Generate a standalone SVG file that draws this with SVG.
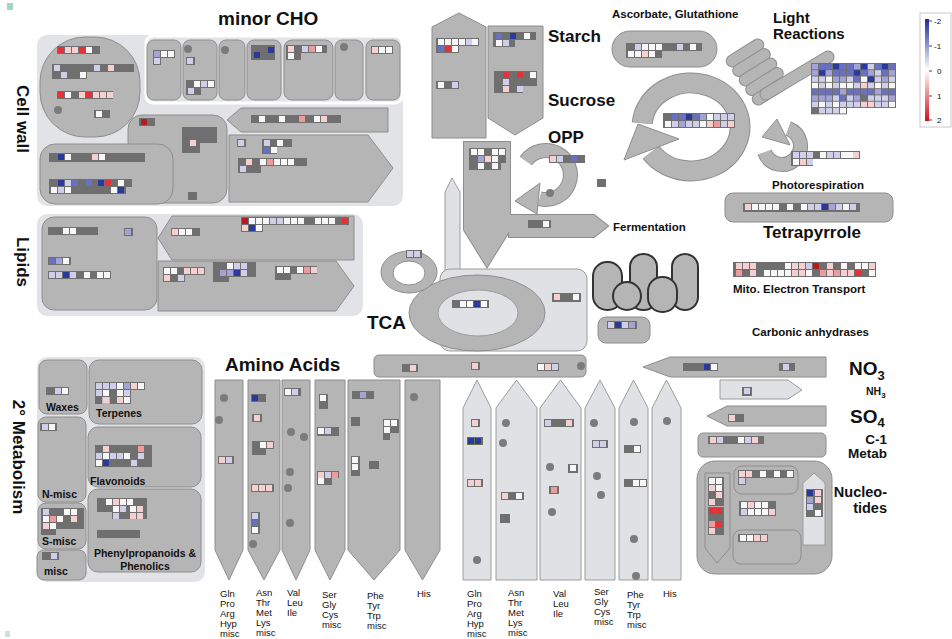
<svg xmlns="http://www.w3.org/2000/svg" width="952" height="639" viewBox="0 0 952 639">
<style>
.pn{fill:#e2e3e6}
.nd{fill:#b5b5b5;stroke:#8e8e8e;stroke-width:1}
.lt{fill:#e0e1e4;stroke:#9c9c9c;stroke-width:1}
.bar{fill:#6f6f6f}
.dot{fill:#7b7b7b}
.o{fill:none;stroke:#8e8e8e;stroke-width:2}
.f{fill:#b5b5b5}
.dk{fill:#b5b5b5;stroke:#333;stroke-width:2}
.ro{fill:none;stroke:#8e8e8e}
.rf{fill:none;stroke:#b5b5b5}
text{font-family:"Liberation Sans",Arial,sans-serif;fill:#111}
.t17{font-size:17px;font-weight:bold}
.t19{font-size:19px;font-weight:bold}
.t15{font-size:15px;font-weight:bold}
.t14{font-size:14.5px;font-weight:bold}
.t13{font-size:13.5px;font-weight:bold}
.t12{font-size:11.5px;font-weight:bold}
.t10{font-size:10.5px;font-weight:bold}
.aa{font-size:9.5px;fill:#333}
.lg{font-size:8px;fill:#333}
</style>
<defs>
<rect id="W" width="6" height="6" fill="#f7f7f7"/>
<rect id="B1" width="6" height="6" fill="#cfcfea"/>
<rect id="B2" width="6" height="6" fill="#a3a3d6"/>
<rect id="B3" width="6" height="6" fill="#6a70c0"/>
<rect id="B4" width="6" height="6" fill="#2a3a9c"/>
<rect id="R1" width="6" height="6" fill="#f6d0d0"/>
<rect id="R2" width="6" height="6" fill="#ef9a9c"/>
<rect id="R3" width="6" height="6" fill="#e63236"/>
<rect id="R4" width="6" height="6" fill="#b21c22"/>
<rect id="pill" x="-21" y="-6" width="42" height="12" rx="6"/>
<linearGradient id="lgd" x1="0" y1="0" x2="0" y2="1">
<stop offset="0" stop-color="#1a2a9a"/><stop offset="0.5" stop-color="#ffffff"/><stop offset="1" stop-color="#d0101a"/>
</linearGradient>
</defs>
<rect width="952" height="639" fill="#fff"/>
<rect x="7" y="3" width="6" height="7" fill="#a5d6bd"/>
<rect x="5" y="631" width="5" height="6" fill="#c8e4d6"/>

<!-- labels -->
<g id="labels">
<text class="t19" x="218" y="25">minor CHO</text>
<text class="t17" transform="translate(17,119) rotate(90)" text-anchor="middle">Cell wall</text>
<text class="t17" transform="translate(17,262) rotate(90)" text-anchor="middle">Lipids</text>
<text class="t17" transform="translate(13,457) rotate(90)" text-anchor="middle">2° Metabolism</text>
<text class="t17" x="548" y="42">Starch</text>
<text class="t17" x="548" y="106">Sucrose</text>
<text class="t17" x="548" y="143">OPP</text>
<text class="t12" x="612" y="18">Ascorbate, Glutathione</text>
<text class="t15" x="773" y="23">Light</text>
<text class="t15" x="773" y="39">Reactions</text>
<text class="t12" x="613" y="231">Fermentation</text>
<text class="t12" x="772" y="189">Photorespiration</text>
<text class="t17" x="763" y="238">Tetrapyrrole</text>
<text class="t12" x="733" y="293">Mito. Electron Transport</text>
<text class="t12" x="752" y="336">Carbonic anhydrases</text>
<text class="t19" x="367" y="329">TCA</text>
<text class="t19" x="225" y="371">Amino Acids</text>
<text class="t19" x="849" y="375">NO<tspan font-size="13" dy="5">3</tspan></text>
<text class="t10" x="866" y="395">NH<tspan font-size="8" dy="3">3</tspan></text>
<text class="t19" x="850" y="423">SO<tspan font-size="13" dy="4">4</tspan></text>
<text class="t13" x="887" y="444" text-anchor="end">C-1</text>
<text class="t13" x="887" y="458" text-anchor="end">Metab</text>
<text class="t14" x="887" y="497" text-anchor="end">Nucleo-</text>
<text class="t14" x="887" y="513" text-anchor="end">tides</text>
</g>

<!-- Cell wall / minor CHO -->
<g id="cellwall">
<rect class="pn" x="37" y="35" width="366" height="171" rx="10"/>
<rect class="pn" x="146" y="36" width="256" height="67" rx="7" stroke="#fff" stroke-width="3"/>
<rect class="nd" x="40" y="37" width="100" height="100" rx="45"/>
<rect class="bar" x="57" y="46" width="43" height="8"/>
<use href="#R3" x="58" y="47"/><use href="#R1" x="65" y="47"/><use href="#R1" x="72" y="47"/><use href="#R3" x="79" y="47"/><use href="#W" x="86" y="47"/>
<rect class="bar" x="52" y="64" width="82" height="8"/><rect class="bar" x="52" y="71" width="35" height="8"/>
<use href="#B1" x="54" y="65"/><use href="#B1" x="94" y="65"/><use href="#R1" x="108" y="65"/>
<use href="#B1" x="61" y="72"/><use href="#W" x="80" y="72"/>
<rect class="bar" x="57" y="91" width="56" height="8"/>
<use href="#R3" x="58" y="92"/><use href="#W" x="65" y="92"/><use href="#R1" x="79" y="92"/><use href="#R3" x="86" y="92"/><use href="#R1" x="93" y="92"/><use href="#R1" x="100" y="92"/><use href="#R1" x="107" y="92"/>
<circle class="dot" cx="58" cy="110" r="4"/>
<rect class="bar" x="94" y="110" width="16" height="8"/><use href="#W" x="96" y="111"/>

<rect class="nd" x="128" y="115" width="99" height="88" rx="14"/>
<rect class="bar" x="139" y="118" width="16" height="8"/><use href="#R4" x="141" y="119"/>
<path class="bar" d="M182,127H217V143H200V153H182Z"/><use href="#R1" x="190" y="140"/>
<rect class="bar" x="188" y="192" width="9" height="8"/>

<rect class="nd" x="40" y="144" width="133" height="60" rx="15"/>
<rect class="bar" x="49" y="153" width="96" height="9"/>
<use href="#B4" x="58" y="154"/><use href="#W" x="65" y="154"/><use href="#R1" x="92" y="154"/><use href="#W" x="99" y="154"/>
<rect class="bar" x="49" y="179" width="83" height="8"/><rect class="bar" x="49" y="186" width="77" height="8"/>
<use href="#B4" x="58" y="180"/><use href="#B1" x="65" y="180"/><use href="#B3" x="72" y="180"/><use href="#B3" x="86" y="180"/><use href="#B4" x="98" y="180"/><use href="#R3" x="105" y="180"/><use href="#W" x="118" y="180"/>
<use href="#W" x="51" y="187"/><use href="#B1" x="58" y="187"/><use href="#W" x="65" y="187"/><use href="#W" x="111" y="187"/><use href="#B4" x="118" y="187"/>

<polygon class="nd" points="227,120 241,108 388,108 388,132 241,132"/>
<rect class="bar" x="251" y="115" width="90" height="8"/>
<use href="#W" x="259" y="116"/><use href="#W" x="279" y="116"/><use href="#R2" x="299" y="116"/><use href="#W" x="314" y="116"/><use href="#R1" x="321" y="116"/>

<polygon class="nd" points="229,135 368,135 393,168 368,202 229,202"/>
<rect class="bar" x="237" y="139" width="9" height="8"/><use href="#B1" x="238" y="140"/>
<rect class="bar" x="262" y="139" width="30" height="8"/><rect class="bar" x="262" y="146" width="15" height="8"/>
<use href="#B1" x="264" y="140"/><use href="#W" x="277" y="140"/><use href="#B3" x="264" y="147"/><use href="#W" x="271" y="147"/>
<rect class="bar" x="238" y="158" width="69" height="8"/><rect class="bar" x="238" y="165" width="23" height="8"/>
<use href="#R1" x="246" y="159"/><use href="#W" x="260" y="159"/><use href="#R2" x="267" y="159"/><use href="#W" x="274" y="159"/><use href="#W" x="281" y="159"/><use href="#W" x="288" y="159"/>
<use href="#B1" x="240" y="166"/>
</g>

<g id="minorCHO">
<rect class="nd" x="147" y="40" width="34" height="60" rx="7"/>
<rect class="bar" x="153" y="50" width="22" height="8"/><rect class="bar" x="153" y="57" width="8" height="8"/>
<use href="#B2" x="154" y="51"/><use href="#W" x="161" y="51"/><use href="#W" x="168" y="51"/><use href="#B1" x="154" y="58"/>
<rect class="nd" x="183" y="40" width="34" height="60" rx="7"/>
<circle class="dot" cx="188" cy="49" r="4"/>
<rect class="bar" x="186" y="57" width="9" height="8"/><use href="#B1" x="187" y="58"/>
<rect class="bar" x="186" y="80" width="29" height="8"/><rect class="bar" x="186" y="87" width="15" height="8"/>
<use href="#W" x="194" y="81"/><use href="#B1" x="201" y="81"/><use href="#W" x="208" y="81"/><use href="#B1" x="188" y="88"/>
<rect class="nd" x="219" y="40" width="26" height="60" rx="7"/>
<circle class="dot" cx="225" cy="50" r="4"/>
<rect class="nd" x="247" y="40" width="34" height="60" rx="7"/>
<rect class="bar" x="251" y="45" width="24" height="15"/><use href="#B4" x="268" y="47"/><use href="#B4" x="254" y="52"/>
<rect class="nd" x="284" y="40" width="49" height="60" rx="8"/>
<rect class="bar" x="286" y="45" width="41" height="8"/><rect class="bar" x="286" y="52" width="15" height="8"/>
<use href="#R1" x="288" y="46"/><use href="#B1" x="302" y="46"/><use href="#R2" x="309" y="46"/><use href="#W" x="316" y="46"/><use href="#W" x="288" y="53"/>
<rect class="nd" x="335" y="40" width="28" height="60" rx="7"/>
<circle class="dot" cx="344" cy="47" r="4"/>
<rect class="nd" x="366" y="40" width="34" height="60" rx="7"/>
<rect class="bar" x="371" y="46" width="22" height="8"/>
<use href="#R1" x="372" y="47"/><use href="#W" x="379" y="47"/><use href="#W" x="386" y="47"/>
</g>

<!-- Lipids -->
<g id="lipids">
<rect class="pn" x="37" y="214" width="326" height="102" rx="10"/>
<rect class="nd" x="42" y="217" width="115" height="93" rx="12"/>
<rect class="bar" x="48" y="227" width="50" height="8"/><use href="#W" x="63" y="228"/><use href="#W" x="70" y="228"/>
<rect class="bar" x="124" y="228" width="9" height="8"/><use href="#B2" x="125" y="229"/>
<rect class="bar" x="48" y="257" width="23" height="8"/><use href="#B3" x="49" y="258"/><use href="#B2" x="56" y="258"/><use href="#W" x="63" y="258"/>
<rect class="bar" x="48" y="271" width="63" height="8"/>
<use href="#B1" x="49" y="272"/><use href="#B1" x="56" y="272"/><use href="#B4" x="63" y="272"/><use href="#B1" x="70" y="272"/><use href="#W" x="84" y="272"/><use href="#W" x="97" y="272"/><use href="#W" x="104" y="272"/>
<polygon class="nd" points="158,238 172,216 354,216 354,260 172,260"/>
<rect class="bar" x="171" y="228" width="29" height="8"/><use href="#R1" x="172" y="229"/><use href="#W" x="179" y="229"/><use href="#W" x="186" y="229"/>
<rect class="bar" x="241" y="217" width="108" height="8"/><rect class="bar" x="241" y="224" width="22" height="8"/>
<use href="#R4" x="242" y="218"/><use href="#W" x="249" y="218"/><use href="#W" x="256" y="218"/><use href="#W" x="263" y="218"/><use href="#B1" x="270" y="218"/><use href="#B1" x="277" y="218"/><use href="#W" x="284" y="218"/><use href="#W" x="291" y="218"/><use href="#W" x="298" y="218"/><use href="#W" x="315" y="218"/><use href="#W" x="322" y="218"/><use href="#W" x="329" y="218"/><use href="#R3" x="342" y="218"/>
<use href="#R1" x="242" y="225"/><use href="#B4" x="249" y="225"/><use href="#W" x="256" y="225"/>
<polygon class="nd" points="158,261 336,261 354,286 336,311 158,311"/>
<rect class="bar" x="163" y="267" width="42" height="8"/><rect class="bar" x="163" y="274" width="22" height="8"/>
<use href="#W" x="164" y="268"/><use href="#W" x="171" y="268"/><use href="#R1" x="184" y="268"/><use href="#R1" x="191" y="268"/><use href="#R1" x="198" y="268"/>
<use href="#R1" x="164" y="275"/><use href="#B1" x="178" y="275"/>
<rect class="bar" x="213" y="262" width="43" height="15"/><rect class="bar" x="213" y="276" width="16" height="6"/>
<use href="#W" x="227" y="263"/><use href="#B1" x="234" y="263"/><use href="#B1" x="241" y="263"/>
<use href="#B2" x="220" y="270"/><use href="#B2" x="227" y="270"/><use href="#B4" x="234" y="270"/><use href="#B1" x="241" y="270"/>
<rect class="bar" x="275" y="266" width="42" height="8"/><rect class="bar" x="275" y="273" width="16" height="7"/>
<use href="#W" x="277" y="267"/><use href="#W" x="284" y="267"/><use href="#W" x="297" y="267"/><use href="#R2" x="304" y="267"/><use href="#R1" x="311" y="267"/>
</g>

<!-- 2nd metabolism -->
<g id="secondary">
<rect class="pn" x="37" y="357" width="168" height="225" rx="10"/>
<rect class="nd" x="39" y="360" width="48" height="54" rx="8"/>
<rect class="bar" x="46" y="387" width="23" height="8"/><use href="#B1" x="55" y="388"/><use href="#W" x="62" y="388"/>
<text class="t10" x="46" y="411">Waxes</text>
<rect class="nd" x="89" y="360" width="113" height="64" rx="10"/>
<path class="bar" d="M95,382H145V390H131V404H110V397H102V404H95Z"/>
<use href="#B1" x="96" y="383"/><use href="#B1" x="103" y="383"/><use href="#B1" x="110" y="383"/><use href="#W" x="117" y="383"/><use href="#B2" x="124" y="383"/><use href="#R1" x="131" y="383"/><use href="#W" x="138" y="383"/>
<use href="#B1" x="96" y="390"/><use href="#W" x="103" y="390"/><use href="#W" x="117" y="390"/><use href="#B1" x="124" y="390"/>
<use href="#R1" x="103" y="397"/><use href="#R1" x="117" y="397"/><use href="#W" x="124" y="397"/>
<text class="t10" x="96" y="417">Terpenes</text>
<rect class="nd" x="38" y="417" width="48" height="85" rx="8"/>
<rect class="bar" x="40" y="423" width="17" height="8"/><use href="#B1" x="42" y="424"/><use href="#W" x="49" y="424"/>
<text class="t10" x="42" y="498">N-misc</text>
<rect class="nd" x="88" y="427" width="113" height="60" rx="10"/>
<rect class="bar" x="95" y="445" width="57" height="22"/>
<use href="#R1" x="103" y="446"/><use href="#R2" x="138" y="446"/>
<use href="#B1" x="96" y="453"/><use href="#W" x="103" y="453"/><use href="#B1" x="110" y="453"/><use href="#B1" x="117" y="453"/><use href="#W" x="124" y="453"/><use href="#B1" x="138" y="453"/>
<use href="#W" x="96" y="460"/><use href="#B4" x="103" y="460"/><use href="#B1" x="131" y="460"/>
<text class="t10" x="90" y="485">Flavonoids</text>
<rect class="nd" x="38" y="503" width="48" height="46" rx="8"/>
<path class="bar" d="M41,508H84V529H56V535H41Z"/>
<use href="#B1" x="43" y="509"/><use href="#W" x="64" y="509"/><use href="#W" x="71" y="509"/>
<use href="#W" x="43" y="516"/><use href="#R2" x="50" y="516"/><use href="#W" x="57" y="516"/><use href="#R1" x="71" y="516"/>
<use href="#R1" x="43" y="523"/><use href="#W" x="50" y="523"/>
<text class="t10" x="42" y="545">S-misc</text>
<rect class="nd" x="37" y="550" width="49" height="30" rx="7"/>
<rect class="bar" x="42" y="552" width="17" height="8"/><use href="#B1" x="51" y="553"/>
<text class="t10" x="44" y="575">misc</text>
<rect class="nd" x="88" y="489" width="113" height="83" rx="10"/>
<path class="bar" d="M97,498H147V519H112V512H97Z"/>
<use href="#W" x="106" y="499"/><use href="#R1" x="113" y="499"/><use href="#W" x="120" y="499"/><use href="#W" x="127" y="499"/>
<use href="#W" x="113" y="506"/><use href="#B1" x="120" y="506"/><use href="#W" x="130" y="506"/><use href="#R1" x="137" y="506"/>
<use href="#B1" x="113" y="513"/><use href="#R1" x="130" y="513"/><use href="#R1" x="137" y="513"/>
<rect class="bar" x="97" y="530" width="43" height="8"/>
<text class="t10" x="145" y="557" text-anchor="middle">Phenylpropanoids &amp;</text>
<text class="t10" x="145" y="570" text-anchor="middle">Phenolics</text>
</g>

<!-- Starch / Sucrose -->
<g id="starch">
<polygon class="nd" points="432,27 459,13 486,27 486,138 432,138"/>
<rect class="bar" x="436" y="38" width="43" height="8"/><rect class="bar" x="436" y="45" width="23" height="8"/>
<use href="#W" x="438" y="39"/><use href="#W" x="445" y="39"/><use href="#W" x="452" y="39"/><use href="#W" x="459" y="39"/><use href="#B1" x="466" y="39"/><use href="#W" x="472" y="39"/>
<use href="#B3" x="438" y="46"/><use href="#R3" x="445" y="46"/><use href="#W" x="452" y="46"/>
<rect class="bar" x="436" y="81" width="23" height="8"/><use href="#W" x="438" y="82"/><use href="#B1" x="452" y="82"/>
</g>
<g id="sucrose">
<polygon class="nd" points="488,26 543,26 543,118 515,135 488,118"/>
<rect class="bar" x="493" y="32" width="43" height="8"/><rect class="bar" x="493" y="39" width="22" height="8"/>
<use href="#B3" x="496" y="33"/><use href="#B4" x="510" y="33"/><use href="#W" x="524" y="33"/>
<use href="#W" x="496" y="40"/><use href="#B1" x="503" y="40"/>
<rect class="bar" x="494" y="71" width="43" height="15"/><rect class="bar" x="494" y="85" width="29" height="8"/>
<use href="#R3" x="503" y="72"/><use href="#R3" x="517" y="72"/><use href="#W" x="530" y="72"/>
<use href="#B1" x="503" y="79"/>
<use href="#R1" x="503" y="86"/><use href="#B1" x="517" y="86"/>
</g>

<!-- light vertical connector -->
<g id="light-strip">
<polygon class="lt" points="445,192 452,178 460,192 460,272 445,272"/>
</g>

<!-- OPP + fermentation -->
<g id="opp">
<polygon class="o" points="464,142 510,142 510,230 487,267 464,230"/>
<polygon class="o" points="509,215 594,215 608,226 594,237 509,237"/>
<polygon class="f" points="464,142 510,142 510,230 487,267 464,230"/>
<polygon class="f" points="509,215 594,215 608,226 594,237 509,237"/>
<path class="bar" d="M469,148H506V163H501V170H469Z"/>
<use href="#W" x="471" y="149"/><use href="#W" x="478" y="149"/><use href="#W" x="492" y="149"/><use href="#W" x="499" y="149"/>
<use href="#B2" x="478" y="156"/><use href="#R1" x="485" y="156"/><use href="#W" x="492" y="156"/>
<use href="#W" x="478" y="163"/><use href="#W" x="492" y="163"/>
<rect class="bar" x="528" y="220" width="23" height="8"/><use href="#W" x="543" y="221"/>
</g>
<g id="opp-cycle">
<path class="ro" stroke-width="15" d="M525.9,160.9 A24.5,24.5 0 1,1 539.7,198.7"/>
<path class="rf" stroke-width="13" d="M525.9,160.9 A24.5,24.5 0 1,1 539.7,198.7"/>
<polygon class="nd" points="540,183 537,214 515,201"/>
<rect class="bar" x="549" y="155" width="36" height="8"/>
<use href="#R1" x="550" y="156"/><use href="#B1" x="557" y="156"/><use href="#B3" x="571" y="156"/>
<circle class="dot" cx="550" cy="193" r="4"/>
</g>
<rect id="opp-misc" class="bar" x="597" y="179" width="9" height="8"/>

<!-- Ascorbate -->
<g id="ascorbate">
<rect class="nd" x="612" y="31" width="105" height="36" rx="18"/>
<rect class="bar" x="626" y="43" width="76" height="8"/><rect class="bar" x="626" y="50" width="36" height="8"/>
<use href="#B1" x="635" y="44"/><use href="#W" x="642" y="44"/><use href="#W" x="649" y="44"/><use href="#W" x="656" y="44"/><use href="#B1" x="677" y="44"/><use href="#W" x="690" y="44"/>
<use href="#W" x="628" y="51"/><use href="#W" x="635" y="51"/><use href="#R1" x="642" y="51"/><use href="#W" x="649" y="51"/>
</g>

<!-- Calvin cycle -->
<g id="calvin">
<path class="ro" stroke-width="21" d="M642.2,123.2 A49,44 0 1,1 650.9,152.2"/>
<path class="rf" stroke-width="19" d="M642.2,123.2 A49,44 0 1,1 650.9,152.2"/>
<polygon class="nd" points="638,124 679,139 624,160"/>
<rect class="bar" x="663" y="113" width="72" height="15"/>
<use href="#B3" x="672" y="114"/><use href="#B3" x="679" y="114"/><use href="#B4" x="686" y="114"/><use href="#B3" x="693" y="114"/><use href="#B2" x="700" y="114"/><use href="#W" x="707" y="114"/><use href="#B1" x="714" y="114"/><use href="#B1" x="721" y="114"/><use href="#B1" x="728" y="114"/>
<use href="#W" x="665" y="121"/><use href="#B1" x="672" y="121"/><use href="#B2" x="679" y="121"/><use href="#B1" x="686" y="121"/><use href="#B1" x="693" y="121"/><use href="#W" x="700" y="121"/><use href="#R1" x="707" y="121"/><use href="#R2" x="714" y="121"/><use href="#B1" x="721" y="121"/><use href="#R1" x="728" y="121"/>
</g>

<!-- Light reactions -->
<g id="light-reactions">
<use href="#pill" class="nd" transform="translate(745,53) rotate(-32)"/>
<use href="#pill" class="nd" transform="translate(751.5,62.5) rotate(-32)"/>
<use href="#pill" class="nd" transform="translate(758,72) rotate(-32)"/>
<use href="#pill" class="nd" transform="translate(764.5,81.5) rotate(-32)"/>
<use href="#pill" class="nd" transform="translate(771,91) rotate(-32)"/>
<line x1="766" y1="94" x2="828" y2="57" stroke="#8e8e8e" stroke-width="13" stroke-linecap="round"/>
<line x1="766" y1="94" x2="828" y2="57" stroke="#b5b5b5" stroke-width="11" stroke-linecap="round"/>
<g transform="translate(811,63) scale(1,0.9)">
<rect class="bar" width="85" height="50"/><rect class="bar" y="49" width="36" height="8"/>
<g transform="translate(1,1)">
<use href="#B2" x="0" y="0"/><use href="#B3" x="7" y="0"/><use href="#B3" x="14" y="0"/><use href="#B4" x="21" y="0"/><use href="#B3" x="28" y="0"/><use href="#B3" x="35" y="0"/><use href="#B2" x="42" y="0"/><use href="#B4" x="49" y="0"/><use href="#B1" x="56" y="0"/><use href="#B3" x="63" y="0"/><use href="#B4" x="70" y="0"/><use href="#B3" x="77" y="0"/>
<use href="#B2" x="0" y="7"/><use href="#B4" x="7" y="7"/><use href="#B2" x="14" y="7"/><use href="#B3" x="21" y="7"/><use href="#B3" x="28" y="7"/><use href="#B3" x="35" y="7"/><use href="#B4" x="42" y="7"/><use href="#B3" x="49" y="7"/><use href="#B2" x="56" y="7"/><use href="#B1" x="63" y="7"/><use href="#B3" x="70" y="7"/><use href="#B2" x="77" y="7"/>
<use href="#B1" x="0" y="14"/><use href="#B1" x="7" y="14"/><use href="#W" x="14" y="14"/><use href="#B2" x="21" y="14"/><use href="#B2" x="28" y="14"/><use href="#B1" x="35" y="14"/><use href="#B3" x="42" y="14"/><use href="#W" x="49" y="14"/><use href="#B4" x="56" y="14"/><use href="#B1" x="63" y="14"/><use href="#B2" x="70" y="14"/><use href="#B1" x="77" y="14"/>
<use href="#W" x="0" y="21"/><use href="#B1" x="7" y="21"/><use href="#W" x="14" y="21"/><use href="#B1" x="21" y="21"/><use href="#W" x="28" y="21"/><use href="#W" x="35" y="21"/><use href="#B1" x="42" y="21"/><use href="#R1" x="49" y="21"/><use href="#B1" x="56" y="21"/><use href="#W" x="63" y="21"/><use href="#B1" x="70" y="21"/><use href="#W" x="77" y="21"/>
<use href="#B3" x="0" y="28"/><use href="#B3" x="7" y="28"/><use href="#B3" x="14" y="28"/><use href="#B3" x="21" y="28"/><use href="#B2" x="28" y="28"/><use href="#B3" x="35" y="28"/><use href="#B3" x="42" y="28"/><use href="#B3" x="49" y="28"/><use href="#B3" x="56" y="28"/><use href="#B2" x="63" y="28"/><use href="#B3" x="70" y="28"/><use href="#B3" x="77" y="28"/>
<use href="#B2" x="0" y="35"/><use href="#B2" x="7" y="35"/><use href="#B2" x="14" y="35"/><use href="#B1" x="21" y="35"/><use href="#B3" x="28" y="35"/><use href="#B1" x="35" y="35"/><use href="#B2" x="42" y="35"/><use href="#B1" x="56" y="35"/><use href="#B1" x="63" y="35"/><use href="#B1" x="70" y="35"/><use href="#B2" x="77" y="35"/>
<use href="#B1" x="0" y="42"/><use href="#W" x="7" y="42"/><use href="#B1" x="14" y="42"/><use href="#W" x="21" y="42"/><use href="#B1" x="28" y="42"/><use href="#B1" x="35" y="42"/><use href="#B1" x="42" y="42"/><use href="#R1" x="49" y="42"/><use href="#R1" x="56" y="42"/><use href="#B1" x="63" y="42"/><use href="#B1" x="70" y="42"/><use href="#W" x="77" y="42"/>
<use href="#B1" x="7" y="49"/><use href="#B1" x="14" y="49"/><use href="#B1" x="21" y="49"/><use href="#W" x="28" y="49"/>
</g>
</g>
</g>

<!-- Photorespiration -->
<g id="photorespiration">
<path class="ro" stroke-width="15" d="M788.3,128.6 A18.5,18.5 0 1,1 764.6,152.3"/>
<path class="rf" stroke-width="13" d="M788.3,128.6 A18.5,18.5 0 1,1 764.6,152.3"/>
<polygon class="nd" points="777,119 790,145 762,137"/>
<rect class="bar" x="791" y="151" width="69" height="8"/><rect class="bar" x="791" y="158" width="22" height="8"/>
<use href="#B1" x="793" y="152"/><use href="#B1" x="800" y="152"/><use href="#B1" x="807" y="152"/><use href="#W" x="820" y="152"/><use href="#B1" x="827" y="152"/><use href="#B1" x="834" y="152"/><use href="#W" x="841" y="152"/><use href="#W" x="847" y="152"/><use href="#R1" x="853" y="152"/>
<use href="#W" x="793" y="159"/><use href="#R1" x="800" y="159"/><use href="#B1" x="807" y="159"/>
</g>

<!-- Tetrapyrrole -->
<g id="tetrapyrrole">
<rect class="nd" x="725" y="193" width="168" height="29" rx="8"/>
<rect class="bar" x="743" y="203" width="117" height="9"/>
<use href="#R1" x="745" y="204"/><use href="#W" x="752" y="204"/><use href="#W" x="759" y="204"/><use href="#W" x="766" y="204"/><use href="#W" x="773" y="204"/><use href="#W" x="787" y="204"/><use href="#W" x="801" y="204"/><use href="#B1" x="808" y="204"/><use href="#B1" x="815" y="204"/><use href="#B4" x="822" y="204"/><use href="#B2" x="829" y="204"/><use href="#B1" x="836" y="204"/><use href="#W" x="843" y="204"/><use href="#B1" x="850" y="204"/>
</g>

<!-- Mito ETC bar -->
<g id="mito-etc">
<rect class="bar" x="733" y="262" width="143" height="15"/>
<use href="#R1" x="736" y="263"/><use href="#R1" x="743" y="263"/><use href="#R1" x="750" y="263"/><use href="#W" x="785" y="263"/><use href="#R1" x="792" y="263"/><use href="#R1" x="799" y="263"/><use href="#B1" x="806" y="263"/><use href="#R4" x="813" y="263"/><use href="#R1" x="827" y="263"/><use href="#W" x="841" y="263"/><use href="#W" x="855" y="263"/><use href="#W" x="862" y="263"/><use href="#R1" x="869" y="263"/>
<use href="#R2" x="736" y="270"/><use href="#R1" x="750" y="270"/><use href="#W" x="764" y="270"/><use href="#W" x="771" y="270"/><use href="#W" x="778" y="270"/><use href="#W" x="785" y="270"/><use href="#R1" x="792" y="270"/><use href="#R1" x="799" y="270"/><use href="#W" x="806" y="270"/><use href="#R2" x="820" y="270"/><use href="#R1" x="827" y="270"/><use href="#R2" x="834" y="270"/><use href="#R1" x="841" y="270"/><use href="#R1" x="848" y="270"/><use href="#R3" x="855" y="270"/><use href="#W" x="869" y="270"/>
</g>

<!-- TCA -->
<g id="tca">
<rect class="lt" x="440" y="269" width="147" height="82" rx="10"/>
<ellipse class="nd" cx="477" cy="313" rx="68" ry="38"/>
<ellipse class="lt" cx="478" cy="313" rx="40" ry="23"/>
<rect class="bar" x="452" y="300" width="37" height="8"/>
<use href="#W" x="460" y="301"/><use href="#W" x="467" y="301"/><use href="#B4" x="474" y="301"/><use href="#W" x="481" y="301"/>
<rect class="bar" x="552" y="293" width="29" height="9"/><use href="#R1" x="554" y="294"/><use href="#W" x="573" y="294"/>
</g>
<g id="tca-ring">
<ellipse class="nd" cx="409" cy="272" rx="28" ry="21"/>
<ellipse cx="409" cy="273" rx="16" ry="12" fill="#fff" stroke="#8e8e8e"/>
<rect class="bar" x="406" y="250" width="16" height="8"/><use href="#B1" x="407" y="251"/><use href="#B1" x="414" y="251"/>
</g>

<!-- Mito complexes -->
<g id="mito-complexes">
<rect class="dk" x="593" y="262" width="29" height="48" rx="14"/>
<rect class="dk" x="630" y="254" width="27" height="56" rx="13"/>
<rect class="dk" x="672" y="254" width="26" height="56" rx="13"/>
<rect class="dk" x="648" y="277" width="29" height="35" rx="14"/>
<circle class="dk" cx="627" cy="296" r="14"/>
</g>
<g id="carbonic">
<rect class="nd" x="598" y="317" width="52" height="26" rx="8"/>
<rect class="bar" x="607" y="321" width="30" height="8"/>
<use href="#B1" x="608" y="322"/><use href="#B4" x="615" y="322"/><use href="#B1" x="622" y="322"/><use href="#B2" x="629" y="322"/>
</g>

<!-- TCA bottom bar -->
<g id="aa-synth">
<rect class="nd" x="374" y="355" width="212" height="22" rx="5"/>
<rect class="bar" x="402" y="364" width="16" height="8"/><use href="#R1" x="410" y="365"/>
<rect class="bar" x="471" y="362" width="9" height="8"/><use href="#R1" x="472" y="363"/>
<rect class="bar" x="537" y="363" width="22" height="8"/><use href="#W" x="538" y="364"/><use href="#R1" x="545" y="364"/><use href="#B1" x="552" y="364"/>
<circle class="dot" cx="581" cy="366" r="4"/>
</g>

<!-- Amino acids synthesis (left) -->
<g id="aa-left">
<polygon class="nd" points="215,380 243,380 243,550 229,580 215,550"/>
<polygon class="nd" points="248,380 280,380 280,550 264,580 248,550"/>
<polygon class="nd" points="282,380 310,380 310,550 296,580 282,550"/>
<polygon class="nd" points="315,380 345,380 345,550 330,580 315,550"/>
<polygon class="nd" points="348,380 400,380 400,550 374,580 348,550"/>
<polygon class="nd" points="405,380 440,380 440,550 422.5,580 405,550"/>
<circle class="dot" cx="224" cy="398" r="4"/><circle class="dot" cx="219" cy="420" r="4"/>
<rect class="bar" x="218" y="456" width="16" height="8"/><use href="#R1" x="219" y="457"/><use href="#B1" x="226" y="457"/>
<rect class="bar" x="251" y="394" width="15" height="8"/><use href="#B4" x="252" y="395"/>
<rect class="bar" x="252" y="414" width="10" height="8"/><use href="#R1" x="254" y="415"/>
<path class="bar" d="M252,441H274V449H266V455H252Z"/><use href="#W" x="260" y="442"/><use href="#R1" x="267" y="442"/>
<rect class="bar" x="251" y="484" width="23" height="8"/><use href="#R1" x="252" y="485"/><use href="#R1" x="259" y="485"/><use href="#R1" x="266" y="485"/>
<rect class="bar" x="251" y="512" width="9" height="22"/><use href="#B1" x="252" y="513"/><use href="#B3" x="252" y="520"/><use href="#W" x="252" y="527"/>
<circle class="dot" cx="253" cy="544" r="4"/>
<rect class="bar" x="284" y="388" width="17" height="8"/><use href="#W" x="285" y="389"/><use href="#B1" x="292" y="389"/>
<circle class="dot" cx="291" cy="432" r="4"/><circle class="dot" cx="304" cy="437" r="4"/><circle class="dot" cx="290" cy="472" r="4"/><circle class="dot" cx="288" cy="488" r="4"/><circle class="dot" cx="290" cy="523" r="4"/>
<rect class="bar" x="319" y="394" width="9" height="15"/><use href="#W" x="320" y="395"/>
<rect class="bar" x="317" y="427" width="22" height="9"/><use href="#W" x="318" y="428"/><use href="#B1" x="325" y="428"/>
<path class="bar" d="M317,471H339V478H332V485H317Z"/><use href="#R1" x="318" y="472"/><use href="#B1" x="325" y="472"/><use href="#R2" x="332" y="472"/><use href="#W" x="318" y="478"/>
<rect class="bar" x="352" y="391" width="22" height="8"/><use href="#B2" x="360" y="392"/>
<rect class="bar" x="351" y="417" width="9" height="9"/>
<path class="bar" d="M383,419H399V433H390V440H383Z"/><use href="#W" x="384" y="420"/><use href="#W" x="391" y="420"/><use href="#W" x="384" y="427"/>
<rect class="bar" x="351" y="456" width="9" height="20"/><use href="#W" x="352" y="457"/><use href="#W" x="352" y="464"/>
<rect class="bar" x="369" y="461" width="10" height="8"/>
<circle class="dot" cx="414" cy="397" r="4"/>
<g class="aa">
<text x="220" y="597">Gln<tspan x="220" dy="10">Pro</tspan><tspan x="220" dy="10">Arg</tspan><tspan x="220" dy="10">Hyp</tspan><tspan x="220" dy="10">misc</tspan></text>
<text x="256" y="596">Asn<tspan x="256" dy="10">Thr</tspan><tspan x="256" dy="10">Met</tspan><tspan x="256" dy="10">Lys</tspan><tspan x="256" dy="10">misc</tspan></text>
<text x="287" y="596">Val<tspan x="287" dy="10">Leu</tspan><tspan x="287" dy="10">Ile</tspan></text>
<text x="322" y="598">Ser<tspan x="322" dy="10">Gly</tspan><tspan x="322" dy="10">Cys</tspan><tspan x="322" dy="10">misc</tspan></text>
<text x="367" y="599">Phe<tspan x="367" dy="10">Tyr</tspan><tspan x="367" dy="10">Trp</tspan><tspan x="367" dy="10">misc</tspan></text>
<text x="417" y="597">His</text>
</g>
</g>

<!-- Amino acids degradation (right) -->
<g id="aa-right">
<polygon class="lt" points="463,408 477,380 491,408 491,580 463,580"/>
<polygon class="lt" points="496,408 516.5,380 537,408 537,580 496,580"/>
<polygon class="lt" points="540,408 560.5,380 581,408 581,580 540,580"/>
<polygon class="lt" points="585,408 600,380 615,408 615,580 585,580"/>
<polygon class="lt" points="619,408 633.5,380 648,408 648,580 619,580"/>
<polygon class="lt" points="652,408 666.5,380 681,408 681,580 652,580"/>
<rect class="bar" x="471" y="419" width="9" height="8"/><use href="#R1" x="472" y="420"/>
<rect x="467" y="437" width="16" height="8" fill="#6f6f4a"/><use href="#B4" x="468" y="438"/><use href="#B4" x="475" y="438"/>
<rect class="bar" x="467" y="479" width="16" height="8"/><use href="#R1" x="468" y="480"/><use href="#R1" x="475" y="480"/>
<circle class="dot" cx="477" cy="560" r="4"/>
<circle class="dot" cx="506" cy="423" r="4"/><circle class="dot" cx="503" cy="443" r="4"/>
<rect class="bar" x="501" y="492" width="23" height="8"/><use href="#R1" x="502" y="493"/><use href="#W" x="516" y="493"/>
<rect class="bar" x="500" y="514" width="10" height="9"/>
<rect class="bar" x="544" y="419" width="30" height="8"/><use href="#B1" x="545" y="420"/><use href="#R1" x="566" y="420"/>
<circle class="dot" cx="550" cy="467" r="4"/><circle class="dot" cx="552" cy="512" r="4"/>
<rect class="bar" x="568" y="464" width="10" height="9"/><use href="#W" x="570" y="465"/>
<rect class="bar" x="549" y="486" width="10" height="8"/><use href="#R2" x="551" y="487"/>
<circle class="dot" cx="594" cy="423" r="4"/>
<rect class="bar" x="592" y="440" width="16" height="8"/><use href="#B1" x="593" y="441"/><use href="#B1" x="600" y="441"/>
<circle class="dot" cx="597" cy="476" r="4"/><circle class="dot" cx="601" cy="495" r="4"/>
<circle class="dot" cx="634" cy="422" r="4"/>
<rect class="bar" x="624" y="445" width="17" height="8"/><use href="#W" x="634" y="446"/>
<rect class="bar" x="624" y="479" width="23" height="8"/><use href="#W" x="633" y="480"/><use href="#W" x="640" y="480"/>
<circle class="dot" cx="634" cy="539" r="4"/><circle class="dot" cx="636" cy="576" r="4"/>
<circle class="dot" cx="667" cy="421" r="4"/>
<g class="aa">
<text x="467" y="597">Gln<tspan x="467" dy="10">Pro</tspan><tspan x="467" dy="10">Arg</tspan><tspan x="467" dy="10">Hyp</tspan><tspan x="467" dy="10">misc</tspan></text>
<text x="508" y="596">Asn<tspan x="508" dy="10">Thr</tspan><tspan x="508" dy="10">Met</tspan><tspan x="508" dy="10">Lys</tspan><tspan x="508" dy="10">misc</tspan></text>
<text x="553" y="597">Val<tspan x="553" dy="10">Leu</tspan><tspan x="553" dy="10">Ile</tspan></text>
<text x="594" y="595">Ser<tspan x="594" dy="10">Gly</tspan><tspan x="594" dy="10">Cys</tspan><tspan x="594" dy="10">misc</tspan></text>
<text x="627" y="598">Phe<tspan x="627" dy="10">Tyr</tspan><tspan x="627" dy="10">Trp</tspan><tspan x="627" dy="10">misc</tspan></text>
<text x="663" y="597">His</text>
</g>
</g>

<!-- N / S / C-1 -->
<g id="no3">
<polygon class="nd" points="643,367 670,357 826,357 826,377 670,377"/>
<rect class="bar" x="683" y="363" width="35" height="8"/><use href="#B4" x="704" y="364"/><use href="#W" x="711" y="364"/>
<rect class="bar" x="779" y="363" width="16" height="8"/><use href="#B1" x="783" y="364"/>
</g>
<g id="nh3">
<polygon class="lt" points="720,380 788,380 802,390 788,399 720,399"/>
<rect class="bar" x="742" y="387" width="10" height="9"/><use href="#B1" x="744" y="388"/>
</g>
<g id="so4">
<polygon class="nd" points="707,416 727,406 826,406 826,426 727,426"/>
<rect class="bar" x="728" y="414" width="16" height="8"/><use href="#R1" x="729" y="415"/>
</g>
<g id="c1">
<rect class="nd" x="698" y="433" width="128" height="24" rx="5"/>
<rect class="bar" x="708" y="436" width="56" height="8"/>
<use href="#R1" x="710" y="437"/><use href="#B1" x="717" y="437"/><use href="#W" x="738" y="437"/><use href="#B1" x="745" y="437"/><use href="#R1" x="752" y="437"/>
</g>

<!-- Nucleotides -->
<g id="nucleotides">
<rect class="nd" x="697" y="461" width="135" height="113" rx="18"/>
<polygon class="nd" points="705,473 730,473 730,548 717,563 705,548"/>
<rect class="bar" x="708" y="477" width="16" height="29"/>
<use href="#W" x="709" y="478"/><use href="#W" x="716" y="478"/><use href="#R1" x="709" y="485"/><use href="#W" x="716" y="485"/><use href="#R1" x="716" y="492"/><use href="#R1" x="709" y="499"/>
<rect class="bar" x="708" y="507" width="16" height="28"/>
<use href="#R3" x="709" y="508"/><use href="#R3" x="716" y="508"/><use href="#R2" x="709" y="521"/><use href="#R3" x="716" y="521"/><use href="#R1" x="709" y="528"/>
<rect class="nd" x="734" y="466" width="64" height="28" rx="8"/>
<rect class="bar" x="738" y="470" width="56" height="8"/><rect class="bar" x="738" y="477" width="8" height="8"/>
<use href="#R1" x="739" y="471"/><use href="#R1" x="746" y="471"/><use href="#W" x="760" y="471"/><use href="#W" x="774" y="471"/><use href="#W" x="787" y="471"/><use href="#B1" x="739" y="478"/>
<rect class="bar" x="739" y="501" width="37" height="15"/>
<use href="#W" x="741" y="502"/><use href="#R1" x="748" y="502"/><use href="#W" x="755" y="502"/><use href="#W" x="762" y="502"/>
<use href="#B1" x="741" y="509"/><use href="#W" x="748" y="509"/><use href="#W" x="755" y="509"/><use href="#W" x="762" y="509"/><use href="#R1" x="769" y="509"/>
<rect class="nd" x="733" y="530" width="68" height="34" rx="8"/>
<rect class="bar" x="738" y="534" width="30" height="8"/>
<use href="#W" x="740" y="535"/><use href="#W" x="747" y="535"/><use href="#R1" x="754" y="535"/><use href="#R1" x="761" y="535"/>
<polygon class="lt" points="803,483 814,473 825,483 825,545 803,545"/>
<rect class="bar" x="806" y="489" width="17" height="28"/>
<use href="#B4" x="807" y="490"/><use href="#R1" x="815" y="490"/><use href="#B2" x="807" y="497"/><use href="#R1" x="815" y="497"/><use href="#B1" x="807" y="504"/><use href="#W" x="815" y="510"/>
</g>

<!-- Legend -->
<g id="legend">
<rect x="920" y="13" width="31" height="114" fill="#fff" stroke="#c8c8c8"/>
<rect x="925" y="19" width="4" height="102" fill="url(#lgd)"/>
<g stroke="#444" stroke-width="1">
<line x1="929" y1="21" x2="932" y2="21"/><line x1="929" y1="46" x2="932" y2="46"/><line x1="929" y1="71" x2="932" y2="71"/><line x1="929" y1="96" x2="932" y2="96"/><line x1="929" y1="120" x2="932" y2="120"/>
</g>
<g class="lg">
<text x="934" y="24">-2</text><text x="934" y="49">-1</text><text x="937" y="74">0</text><text x="937" y="99">1</text><text x="937" y="123">2</text>
</g>
</g>
</svg>
